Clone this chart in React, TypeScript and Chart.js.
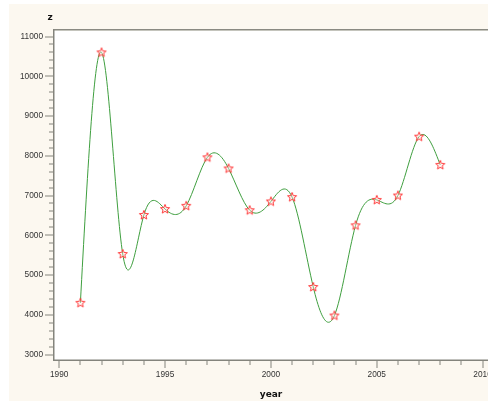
import React, { useEffect, useRef } from 'react';
import { Chart, registerables } from 'chart.js';

Chart.register(...registerables);

// ---- data ----
const years = [1991, 1992, 1993, 1994, 1995, 1996, 1997, 1998, 1999, 2000, 2001, 2002, 2003, 2004, 2005, 2006, 2007, 2008];
const zValues = [4300, 10600, 5530, 6510, 6660, 6740, 7960, 7680, 6630, 6850, 6960, 4700, 3980, 6250, 6890, 7000, 8480, 7770];

const xMajorTicks = [1990, 1995, 2000, 2005, 2010];
const xMinorTicks = [1990, 1991, 1992, 1993, 1994, 1995, 1996, 1997, 1998, 1999, 2000, 2001, 2002, 2003, 2004, 2005, 2006, 2007, 2008, 2009, 2010];
const yMajorTicks = [3000, 4000, 5000, 6000, 7000, 8000, 9000, 10000, 11000];
const yMinorStep = 200;

const xTitle = 'year';
const yTitle = 'z';

const W = 488;
const H = 401;
const CREAM = '#fcf8f0';
const AXIS = '#84847c';

function makeStar(): HTMLCanvasElement {
  const c = document.createElement('canvas');
  c.width = 12;
  c.height = 12;
  const ctx = c.getContext('2d')!;
  const cx = 6, cy = 6.2, ro = 4.8, ri = 2.1;
  ctx.beginPath();
  for (let i = 0; i < 10; i++) {
    const r = i % 2 === 0 ? ro : ri;
    const a = -Math.PI / 2 + (i * Math.PI) / 5;
    const px = cx + r * Math.cos(a);
    const py = cy + r * Math.sin(a);
    if (i === 0) ctx.moveTo(px, py); else ctx.lineTo(px, py);
  }
  ctx.closePath();
  ctx.fillStyle = 'rgba(255,235,235,0.35)';
  ctx.fill();
  ctx.strokeStyle = '#ff3a3a';
  ctx.lineWidth = 1;
  ctx.stroke();
  return c;
}

// natural cubic spline control points, computed from the library's point positions
const naturalSpline = {
  id: 'naturalSpline',
  beforeDatasetDraw(chart: any, args: any) {
    const meta = args.meta;
    const line = meta.dataset;
    const pts = meta.data;
    const n = pts.length;
    if (!line || n < 3) return;
    const x = pts.map((p: any) => p.x);
    const y = pts.map((p: any) => p.y);
    const h: number[] = [];
    for (let i = 0; i < n - 1; i++) h.push(x[i + 1] - x[i]);
    const a = new Array(n).fill(0), b = new Array(n).fill(0), c = new Array(n).fill(0), d = new Array(n).fill(0);
    b[0] = 2 / h[0]; c[0] = 1 / h[0]; d[0] = 3 * (y[1] - y[0]) / (h[0] * h[0]);
    for (let i = 1; i < n - 1; i++) {
      a[i] = 1 / h[i - 1];
      b[i] = 2 * (1 / h[i - 1] + 1 / h[i]);
      c[i] = 1 / h[i];
      d[i] = 3 * ((y[i] - y[i - 1]) / (h[i - 1] * h[i - 1]) + (y[i + 1] - y[i]) / (h[i] * h[i]));
    }
    a[n - 1] = 1 / h[n - 2]; b[n - 1] = 2 / h[n - 2];
    d[n - 1] = 3 * (y[n - 1] - y[n - 2]) / (h[n - 2] * h[n - 2]);
    const cp = c.slice(), dp = d.slice();
    cp[0] = c[0] / b[0]; dp[0] = d[0] / b[0];
    for (let i = 1; i < n; i++) {
      const m = b[i] - a[i] * cp[i - 1];
      cp[i] = c[i] / m;
      dp[i] = (d[i] - a[i] * dp[i - 1]) / m;
    }
    const m = new Array(n).fill(0);
    m[n - 1] = dp[n - 1];
    for (let i = n - 2; i >= 0; i--) m[i] = dp[i] - cp[i] * m[i + 1];
    for (let i = 0; i < n; i++) {
      const p = pts[i];
      const hp = i > 0 ? h[i - 1] : h[0];
      const hn = i < n - 1 ? h[i] : h[n - 2];
      p.cp1x = x[i] - hp / 3; p.cp1y = y[i] - (m[i] * hp) / 3;
      p.cp2x = x[i] + hn / 3; p.cp2y = y[i] + (m[i] * hn) / 3;
    }
    line._pointsUpdated = true;
  },
};

const frame = {
  id: 'frame',
  beforeDraw(chart: any) {
    const ctx = chart.ctx;
    const { left, top, right, bottom } = chart.chartArea;
    ctx.save();
    ctx.fillStyle = '#ffffff';
    ctx.fillRect(0, 0, W, H);
    ctx.fillStyle = CREAM;
    ctx.fillRect(9, 4, W - 9, H - 4);
    ctx.fillStyle = '#ffffff';
    ctx.fillRect(left, top, right - left, bottom - top);
    ctx.restore();
  },
  afterDraw(chart: any) {
    const ctx = chart.ctx;
    const { left, top, right, bottom } = chart.chartArea;
    const xs = chart.scales.x;
    const ys = chart.scales.y;
    ctx.save();
    // top border (double)
    ctx.fillStyle = '#8a8a82';
    ctx.fillRect(left, top, right - left, 1);
    ctx.fillStyle = '#c4c4bc';
    ctx.fillRect(left, top + 1, right - left, 1);
    // left & bottom axis
    ctx.fillStyle = AXIS;
    ctx.fillRect(left - 1, top, 1.5, bottom - top + 1);
    ctx.fillRect(left - 1, bottom - 0.5, right - left + 1, 1.5);
    // y ticks
    for (const t of ys.ticks) {
      const py = Math.round(ys.getPixelForValue(t.value));
      const major = yMajorTicks.includes(t.value);
      const len = major ? 8 : 4;
      ctx.fillRect(left - 1 - len, py - 0.5, len, 1);
    }
    // x ticks
    for (const t of xs.ticks) {
      const px = Math.round(xs.getPixelForValue(t.value));
      const major = xMajorTicks.includes(t.value);
      const len = major ? 7 : 4;
      ctx.fillRect(px - 0.5, bottom + 1, 1, len);
    }
    // titles
    ctx.fillStyle = '#111';
    ctx.font = 'bold 9px "DejaVu Sans"';
    ctx.textAlign = 'center';
    ctx.textBaseline = 'middle';
    ctx.fillText(yTitle, 50, 18);
    ctx.fillText(xTitle, (left + right) / 2, 395);
    ctx.restore();
  },
};

export default function App() {
  const ref = useRef<HTMLCanvasElement>(null);
  useEffect(() => {
    const canvas = ref.current!;
    const star = makeStar();
    const chart = new Chart(canvas, {
      type: 'line',
      data: {
        datasets: [
          {
            data: years.map((yr, i) => ({ x: yr, y: zValues[i] })),
            borderColor: '#3f9f3f',
            borderWidth: 1,
            tension: 0.4,
            pointStyle: star as any,
            pointRadius: 5,
            fill: false,
          },
        ],
      },
      options: {
        responsive: false,
        animation: false,
        events: [],
        layout: { autoPadding: false, padding: { top: 29, left: 0, right: 0, bottom: 0 } },
        plugins: { legend: { display: false }, tooltip: { enabled: false } },
        scales: {
          x: {
            type: 'linear',
            min: 1989.754,
            max: 2010.255,
            grid: { display: false, drawTicks: false, tickLength: 0 },
            border: { display: false },
            afterBuildTicks: (s: any) => {
              s.ticks = xMinorTicks.map((v) => ({ value: v }));
            },
            afterFit: (s: any) => {
              s.height = 41;
              s.paddingLeft = 0;
              s.paddingRight = 0;
            },
            ticks: {
              autoSkip: false,
              maxRotation: 0,
              minRotation: 0,
              padding: 10,
              color: '#333',
              font: { family: '"Liberation Sans"', size: 8.3 },
              callback: (v: any) => (xMajorTicks.includes(Number(v)) ? String(v) : ''),
            },
          },
          y: {
            type: 'linear',
            min: 2862,
            max: 11189,
            grid: { display: false, drawTicks: false, tickLength: 0 },
            border: { display: false },
            afterBuildTicks: (s: any) => {
              const arr: any[] = [];
              for (let v = yMajorTicks[0]; v <= yMajorTicks[yMajorTicks.length - 1]; v += yMinorStep) arr.push({ value: v });
              s.ticks = arr;
            },
            afterFit: (s: any) => {
              s.width = 54;
              s.paddingTop = 0;
              s.paddingBottom = 0;
            },
            ticks: {
              autoSkip: false,
              padding: 11,
              color: '#333',
              font: { family: '"Liberation Sans"', size: 8.3 },
              callback: (v: any) => (Number(v) % 1000 === 0 ? String(v) : ''),
            },
          },
        },
      },
      plugins: [frame, naturalSpline],
    });
    return () => chart.destroy();
  }, []);
  return (
    <div style={{ position: 'absolute', left: 0, top: 0, width: W, height: H }}>
      <canvas ref={ref} width={W} height={H} style={{ display: 'block', width: W, height: H }} />
    </div>
  );
}
